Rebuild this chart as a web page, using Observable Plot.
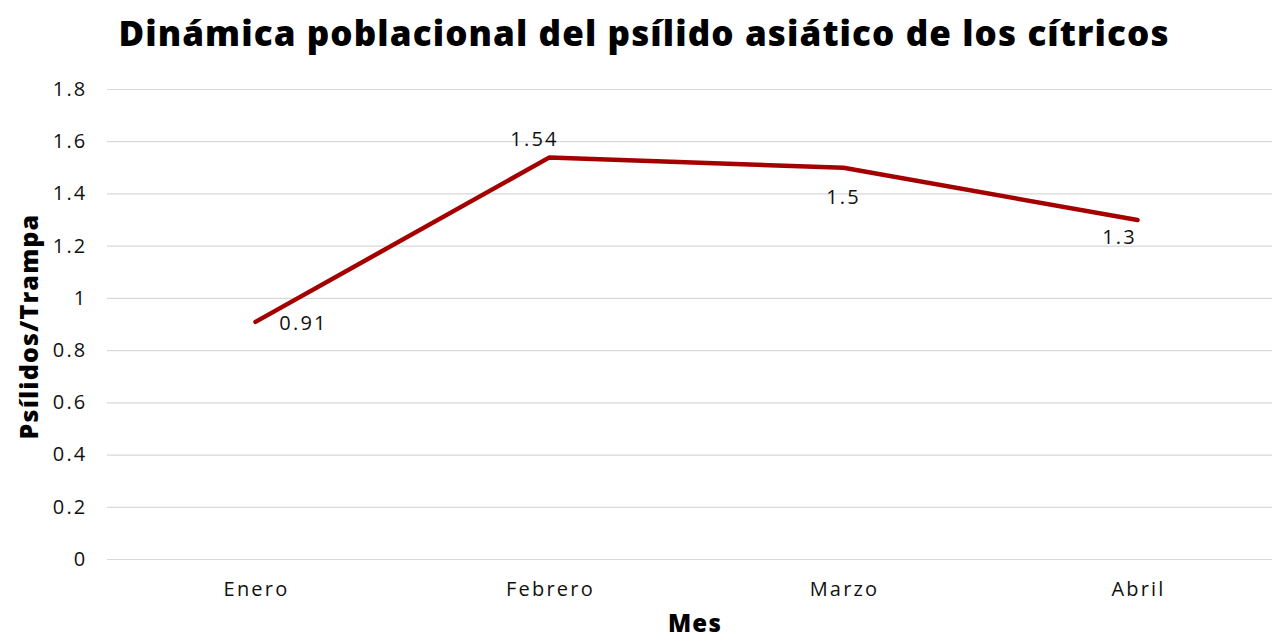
<!DOCTYPE html>
<html>
<head>
<meta charset="utf-8">
<script src="https://cdn.jsdelivr.net/npm/d3@7"></script>
<script src="https://cdn.jsdelivr.net/npm/@observablehq/plot@0.6"></script>
<style>
  html, body { margin: 0; padding: 0; background: #fff; }
  #wrap { position: relative; width: 1272px; height: 639px; overflow: hidden; font-family: "Open Sans", sans-serif; }
  #title { position: absolute; top: 9px; left: 0; width: 1288px; text-align: center; font-size: 35px; font-weight: 800; color: #000; letter-spacing: 1.1px; white-space: nowrap; }
  #chart { position: absolute; top: 0; left: 0; }
  #chart text { letter-spacing: 2.2px; }
  #chart text.axislabel { letter-spacing: 1.2px; }
</style>
</head>
<body>
<div id="wrap">
  <div id="title">Dinámica poblacional del psílido asiático de los cítricos</div>
  <div id="chart"></div>
</div>
<script>
const months = ["Enero", "Febrero", "Marzo", "Abril"];
const values = [0.91, 1.54, 1.5, 1.3];
const yTicks = [0, 0.2, 0.4, 0.6, 0.8, 1, 1.2, 1.4, 1.6, 1.8];
const yLabel = "Psílidos/Trampa";
const xLabel = "Mes";

const data = months.map((m, i) => ({month: m, value: values[i]}));
const fmt = v => String(v);
const font = "Open Sans, sans-serif";

const chart = Plot.plot({
  width: 1272,
  height: 639,
  marginTop: 89,
  marginBottom: 80,
  marginLeft: 107,
  marginRight: 0,
  style: {fontFamily: font, background: "transparent", overflow: "visible"},
  x: {type: "point", domain: months, range: [254, 1137], padding: 0},
  y: {domain: [0, 1.8], ticks: yTicks},
  marks: [
    Plot.ruleY(yTicks, {stroke: "#d9d9d9", strokeWidth: 1.2}),
    Plot.axisY({ticks: yTicks, tickSize: 0, tickPadding: 20, fontSize: 20, fill: "#111", label: null, tickFormat: fmt}),
    Plot.axisX({tickSize: 0, tickPadding: 22, fontSize: 20, fill: "#111", label: null, dx: 1}),
    Plot.line(data, {x: "month", y: "value", stroke: "#A50000", strokeWidth: 4.5, strokeLinecap: "round", strokeLinejoin: "round"}),
    Plot.text(data.filter(d => d.month === "Enero"), {x: "month", y: "value", text: d => fmt(d.value), dx: 48, dy: 2, fontSize: 20, fill: "#111"}),
    Plot.text(data.filter(d => d.month === "Febrero"), {x: "month", y: "value", text: d => fmt(d.value), dx: -15, dy: -18, fontSize: 20, fill: "#111"}),
    Plot.text(data.filter(d => d.month === "Marzo"), {x: "month", y: "value", text: d => fmt(d.value), dx: 0, dy: 30, fontSize: 20, fill: "#111"}),
    Plot.text(data.filter(d => d.month === "Abril"), {x: "month", y: "value", text: d => fmt(d.value), dx: -18, dy: 18, fontSize: 20, fill: "#111"}),
    Plot.text([yLabel], {frameAnchor: "left", textAnchor: "middle", rotate: -90, dx: -78, dy: 2, fontSize: 25, fontWeight: 800, fill: "#000"}),
    Plot.text([xLabel], {frameAnchor: "bottom", dx: 5, dy: 72, fontSize: 24, fontWeight: 800, fill: "#000"})
  ]
});
chart.querySelectorAll("g[aria-label='text']").forEach((g, i, arr) => {
  if (i >= arr.length - 2) g.querySelectorAll("text").forEach(t => t.setAttribute("class", "axislabel"));
});
document.getElementById("chart").appendChild(chart);
</script>
</body>
</html>
